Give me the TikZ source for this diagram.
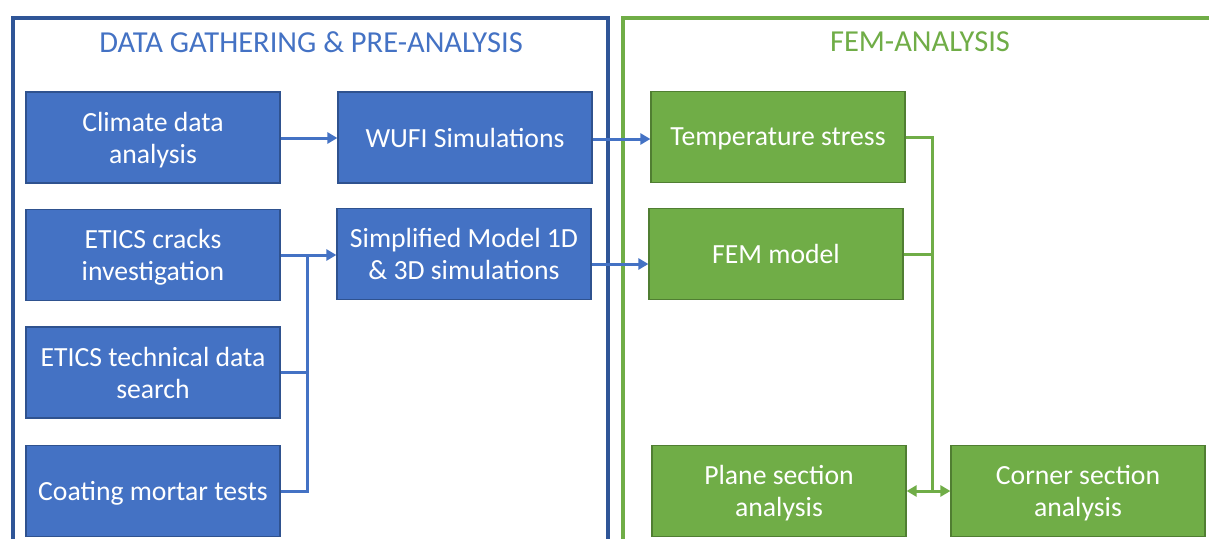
\documentclass[tikz,border=0pt]{standalone}
\usepackage{fontspec}
\setmainfont{Carlito}
\usetikzlibrary{arrows.meta}
\definecolor{bfill}{HTML}{4472C4}
\definecolor{bdraw}{HTML}{2F528F}
\definecolor{gfill}{HTML}{70AD47}
\definecolor{gdraw}{HTML}{507E32}
\definecolor{bframe}{HTML}{2F5597}
\begin{document}
\begin{tikzpicture}[x=1pt,y=-1pt,
  bbox/.style={draw=bdraw,fill=bfill,line width=1.2pt,text=white,font=\fontsize{27.7}{32}\selectfont,align=center,minimum width=254pt,minimum height=91pt,inner sep=0pt,text depth=0pt},
  gbox/.style={draw=gdraw,fill=gfill,line width=1.2pt,text=white,font=\fontsize{27.7}{32}\selectfont,align=center,minimum width=254pt,minimum height=91pt,inner sep=0pt,text depth=0pt},
  bline/.style={draw=bfill,line width=3pt},
  gline/.style={draw=gfill,line width=3pt},
  barr/.style={bline,-{Triangle[length=10pt,width=11pt]}},
  garr/.style={gline,{Triangle[length=10pt,width=11pt]}-{Triangle[length=10pt,width=11pt]}},
  ttl/.style={font=\fontsize{30.5}{36}\selectfont}]
\useasboundingbox (0,0) rectangle (1209,538);
\fill[white] (0,0) rectangle (1209,538);
% frames
\draw[bframe,line width=4pt] (13,545) -- (13,18) -- (608,18) -- (608,545);
\draw[gfill,line width=4pt] (623,545) -- (623,18) -- (1215,18);
\node[ttl,text=bfill] (t1) at (311,42) {DATA GATHERING \& PRE-ANALYSIS};
\node[ttl,text=gfill] (t2) at (920,42) {FEM-ANALYSIS};
% blue boxes
\node[bbox] (climate) at (153,137.5) {Climate data\\analysis};
\node[bbox] (wufi) at (465,137.5) {WUFI Simulations};
\node[bbox] (cracks) at (153,255) {ETICS cracks\\investigation};
\node[bbox] (simp) at (464,254) {Simplified Model 1D\\\& 3D simulations};
\node[bbox] (tech) at (153,372.5) {ETICS technical data\\search};
\node[bbox] (coat) at (153,491) {Coating mortar tests};
% green boxes
\node[gbox] (temp) at (778,137) {Temperature stress};
\node[gbox] (fem) at (776,254) {FEM model};
\node[gbox] (plane) at (779,491) {Plane section\\analysis};
\node[gbox] (corner) at (1078,491) {Corner section\\analysis};
% connectors
\coordinate (bus) at (307,254);
\draw[barr] (climate.east |- 0,138) -- (wufi.west |- 0,138);
\draw[barr] (wufi.east |- 0,139) -- (temp.west |- 0,139);
\draw[barr] (simp.east |- 0,264) -- (fem.west |- 0,264);
\draw[barr] (cracks.east) -- (simp.west |- cracks.east);
\draw[bline] (bus) -- (bus |- coat.east) -- (coat.east);
\draw[bline] (tech.east) -- (bus |- tech.east);
\coordinate (gbus) at (932,137);
\draw[gline] (temp.east) -- (gbus) -- (gbus |- plane.east);
\draw[gline] (fem.east) -- (gbus |- fem.east);
\draw[garr] (plane.east) -- (corner.west);
\end{tikzpicture}
\end{document}
